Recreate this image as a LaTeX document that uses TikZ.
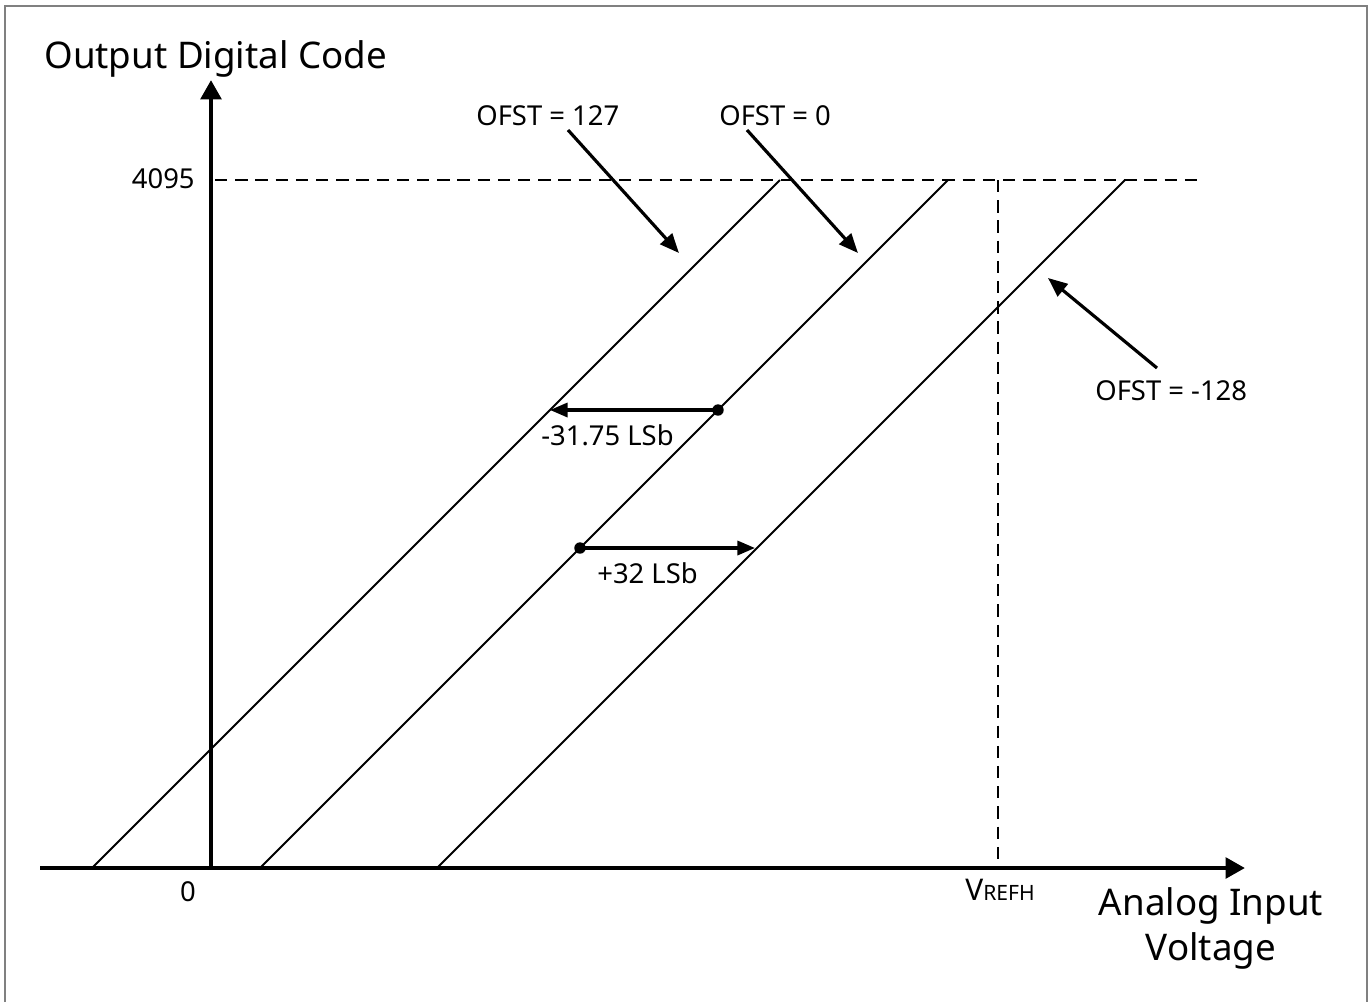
\documentclass[tikz,border=0pt]{standalone}
\usepackage{fontspec}
\setmainfont{Noto Sans}
\usetikzlibrary{arrows.meta}
\begin{document}
\begin{tikzpicture}[x=0.02cm,y=-0.02cm,
  axis/.style={line width=2.7pt,-{Triangle[length=11pt,width=11.5pt]}},
  pointer/.style={line width=1.8pt,-{Triangle[length=11pt,width=9pt]}},
  shift arrow/.style={line width=1.8pt,-{Triangle[length=10pt,width=8pt]}},
  transfer/.style={line width=1.05pt},
  guide/.style={line width=0.85pt,dash pattern=on 7pt off 4.5pt},
  lbl/.style={inner sep=0pt,font=\fontsize{15.6}{18}\selectfont},
  big/.style={inner sep=0pt,font=\fontsize{20.9}{25}\selectfont},
  dot/.style={circle,fill,inner sep=0pt,minimum size=6.5pt}]
\useasboundingbox (0,0) rectangle (1370,1002);
% outer frame (open at the bottom)
\draw[line width=1.2pt,black!50] (5,1002) -- (5,6) -- (1367,6) -- (1367,1002);

% axes
\coordinate (origin) at (211,868);
\coordinate (xstart) at (40,868);
\coordinate (xend) at (1245,868);
\coordinate (yend) at (211,80);
\draw[axis] (xstart) -- (xend);
\draw[axis] (origin) -- (yend);

% full-scale code and reference voltage guides
\coordinate (fsL) at (215,180);
\coordinate (fsR) at (1197,180);
\coordinate (vrefTop) at (998,180);
\coordinate (vrefBot) at (998,868);
\draw[guide] (fsL) -- (fsR);
\draw[guide] (vrefTop) -- (vrefBot);

% transfer characteristics for three offset settings
\coordinate (tA0) at (92,868);  \coordinate (tA1) at (780,180);
\coordinate (tB0) at (260,868); \coordinate (tB1) at (948,180);
\coordinate (tC0) at (437,868); \coordinate (tC1) at (1125,180);
\draw[transfer] (tA0) -- (tA1);
\draw[transfer] (tB0) -- (tB1);
\draw[transfer] (tC0) -- (tC1);

% offset shift arrows
\node[dot] (negStart) at (718,410) {};
\coordinate (negEnd) at (550,410);
\draw[shift arrow] (negStart.center) -- (negEnd);
\node[dot] (posStart) at (580,548) {};
\coordinate (posEnd) at (755,548);
\draw[shift arrow] (posStart.center) -- (posEnd);

% labels
\node[big,anchor=base west] (ylabel) at (44,68) {Output Digital Code};
\node[lbl,anchor=base east] (fscode) at (195,188) {4095};
\node[lbl,anchor=base] (zero) at (188,901) {0};
\node[lbl,anchor=base west] (vrefh) at (965,900) {\fontsize{17}{18}\selectfont V\fontsize{12}{13}\selectfont REFH};
\node[big,anchor=base] (xlabelA) at (1211,915) {Analog Input};
\node[big,anchor=base] (xlabelB) at (1211,960) {Voltage};

\node[lbl,anchor=base west] (ofstA) at (476,125) {OFST = 127};
\node[lbl,anchor=base west] (ofstB) at (719,125) {OFST = 0};
\node[lbl,anchor=base west] (ofstC) at (1095,400) {OFST = -128};
\node[lbl,anchor=base west] (negLbl) at (541,445) {-31.75 LSb};
\node[lbl,anchor=base west] (posLbl) at (597,583) {+32 LSb};

% pointers from the offset labels to their characteristics
\coordinate (pA0) at (568,130); \coordinate (pA1) at (679,253);
\coordinate (pB0) at (747,130); \coordinate (pB1) at (858,253);
\coordinate (pC0) at (1157,368); \coordinate (pC1) at (1048,278);
\draw[pointer] (pA0) -- (pA1);
\draw[pointer] (pB0) -- (pB1);
\draw[pointer] (pC0) -- (pC1);
\end{tikzpicture}
\end{document}
